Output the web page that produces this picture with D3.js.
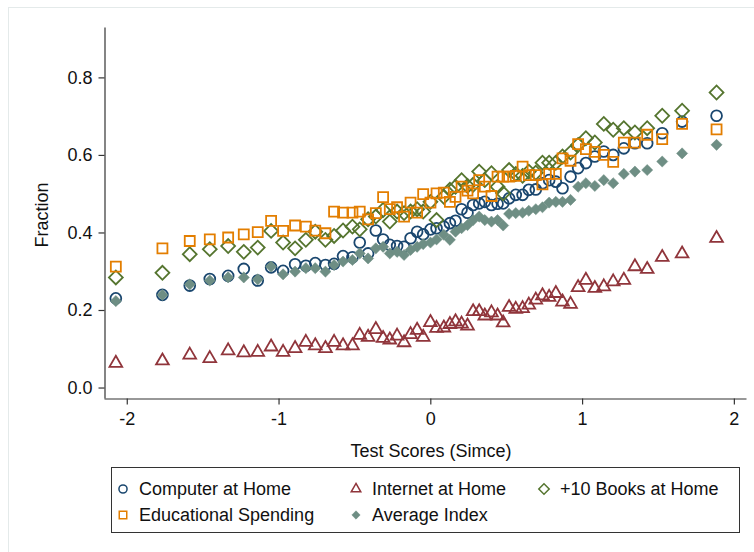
<!DOCTYPE html>
<html>
<head>
<meta charset="utf-8">
<script src="https://cdn.jsdelivr.net/npm/d3@7"></script>
<style>
body { margin: 0; background: #fff; }
svg text { font-family: "Liberation Sans", Arial, sans-serif; fill: #111; }
</style>
</head>
<body>
<div id="chart"></div>
<script>
// binned test scores (x) shared by all series
var scores = [-2.072, -1.765, -1.585, -1.453, -1.332, -1.229, -1.137, -1.049, -0.970, -0.891,
	-0.820, -0.758, -0.691, -0.634, -0.575, -0.513, -0.465, -0.410, -0.359, -0.311,
	-0.267, -0.219, -0.173, -0.130, -0.087, -0.047, 0.001, 0.041, 0.089, 0.129,
	0.166, 0.206, 0.245, 0.282, 0.322, 0.359, 0.403, 0.443, 0.480, 0.519,
	0.563, 0.608, 0.649, 0.695, 0.739, 0.783, 0.827, 0.871, 0.924, 0.974,
	1.025, 1.084, 1.143, 1.205, 1.275, 1.348, 1.429, 1.528, 1.659, 1.886];

var computer = [0.230, 0.239, 0.263, 0.280, 0.288, 0.306, 0.276, 0.310, 0.301, 0.318,
	0.314, 0.321, 0.316, 0.319, 0.339, 0.336, 0.374, 0.346, 0.405, 0.382,
	0.368, 0.365, 0.363, 0.385, 0.402, 0.395, 0.408, 0.411, 0.415, 0.424,
	0.430, 0.460, 0.451, 0.471, 0.475, 0.479, 0.471, 0.474, 0.475, 0.488,
	0.497, 0.497, 0.510, 0.511, 0.527, 0.535, 0.531, 0.514, 0.544, 0.566,
	0.579, 0.596, 0.609, 0.600, 0.617, 0.630, 0.630, 0.656, 0.686, 0.701];

var internet = [0.063, 0.069, 0.084, 0.075, 0.095, 0.090, 0.091, 0.105, 0.091, 0.101,
	0.117, 0.108, 0.101, 0.117, 0.108, 0.108, 0.135, 0.130, 0.150, 0.127,
	0.123, 0.133, 0.116, 0.137, 0.148, 0.130, 0.168, 0.153, 0.154, 0.163,
	0.170, 0.164, 0.159, 0.196, 0.196, 0.185, 0.193, 0.185, 0.167, 0.207,
	0.202, 0.204, 0.213, 0.226, 0.237, 0.233, 0.243, 0.221, 0.215, 0.258,
	0.277, 0.256, 0.260, 0.273, 0.277, 0.312, 0.305, 0.336, 0.345, 0.385];

var books = [0.284, 0.296, 0.344, 0.357, 0.365, 0.350, 0.361, 0.404, 0.374, 0.359,
	0.381, 0.402, 0.381, 0.391, 0.405, 0.415, 0.408, 0.434, 0.441, 0.458,
	0.428, 0.454, 0.450, 0.454, 0.460, 0.454, 0.479, 0.432, 0.492, 0.510,
	0.518, 0.535, 0.520, 0.523, 0.557, 0.535, 0.553, 0.518, 0.501, 0.561,
	0.551, 0.546, 0.557, 0.554, 0.580, 0.580, 0.580, 0.596, 0.606, 0.626,
	0.643, 0.632, 0.680, 0.665, 0.669, 0.658, 0.669, 0.701, 0.714, 0.761];

var spending = [0.312, 0.359, 0.378, 0.382, 0.387, 0.395, 0.401, 0.430, 0.404, 0.418,
	0.415, 0.405, 0.398, 0.454, 0.451, 0.451, 0.454, 0.434, 0.450, 0.491,
	0.460, 0.465, 0.441, 0.477, 0.451, 0.499, 0.477, 0.501, 0.503, 0.479,
	0.492, 0.518, 0.508, 0.501, 0.535, 0.518, 0.494, 0.544, 0.544, 0.544,
	0.546, 0.570, 0.548, 0.548, 0.524, 0.551, 0.551, 0.591, 0.585, 0.628,
	0.615, 0.608, 0.600, 0.582, 0.632, 0.632, 0.652, 0.641, 0.680, 0.666];

var average = [0.223, 0.239, 0.266, 0.276, 0.284, 0.284, 0.279, 0.312, 0.292, 0.299,
	0.308, 0.308, 0.299, 0.316, 0.325, 0.329, 0.346, 0.333, 0.359, 0.363,
	0.346, 0.350, 0.342, 0.355, 0.363, 0.370, 0.374, 0.382, 0.394, 0.381,
	0.402, 0.411, 0.419, 0.432, 0.441, 0.432, 0.428, 0.432, 0.418, 0.448,
	0.450, 0.451, 0.456, 0.460, 0.465, 0.477, 0.479, 0.479, 0.484, 0.518,
	0.527, 0.520, 0.535, 0.527, 0.551, 0.557, 0.561, 0.583, 0.604, 0.626];

var xTicks = [-2, -1, 0, 1, 2];
var yTicks = [0, 0.2, 0.4, 0.6, 0.8];
var legendLabels = ["Computer at Home", "Internet at Home", "+10 Books at Home", "Educational Spending", "Average Index"];

function drawChart() {
	var width = 754;
	var height = 552;
	var fontSize = 18;

	var svg = d3.select('#chart')
		.append('svg')
		.attr('width', width)
		.attr('height', height);

	// faint frame around the figure
	svg.append('rect')
		.attr('x', 8.5).attr('y', 7.5)
		.attr('width', 800).attr('height', 600)
		.attr('fill', 'none')
		.attr('stroke', '#e4eaea');

	var x = d3.scaleLinear().domain([-2.15, 2.08]).range([104, 746]);
	var y = d3.scaleLinear().domain([-0.027, 0.93]).range([398, 27]);

	var series = [
		{name: legendLabels[0], values: computer, shape: 'circle', color: '#1a476f', fill: false},
		{name: legendLabels[1], values: internet, shape: 'triangle', color: '#90353b', fill: false},
		{name: legendLabels[2], values: books, shape: 'diamond', color: '#55752f', fill: false},
		{name: legendLabels[3], values: spending, shape: 'square', color: '#e37e00', fill: false},
		{name: legendLabels[4], values: average, shape: 'fdiamond', color: '#6e8e84', fill: true}
	];

	function symbolPath(shape, scale) {
		var s = scale || 1;
		if (shape === 'circle') return d3.symbol(d3.symbolCircle, 92 * s * s)();
		if (shape === 'triangle') return d3.symbol(d3.symbolTriangle, 70 * s * s)();
		if (shape === 'square') return d3.symbol(d3.symbolSquare, 100 * s * s)();
		if (shape === 'diamond') return d3.symbol(d3.symbolSquare, 96 * s * s)();
		return d3.symbol(d3.symbolSquare, 62 * s * s)();
	}

	function rot(shape) {
		return (shape === 'diamond' || shape === 'fdiamond') ? ' rotate(45)' : '';
	}

	// axes
	var yAxis = d3.axisLeft(y).tickValues(yTicks).tickFormat(d3.format('.1f'))
		.tickSizeInner(6).tickSizeOuter(0).tickPadding(6);
	var xAxis = d3.axisBottom(x).tickValues(xTicks).tickFormat(d3.format('d'))
		.tickSizeInner(6).tickSizeOuter(0).tickPadding(8);

	var gy = svg.append('g').attr('transform', 'translate(104.5,0)').call(yAxis);
	var gx = svg.append('g').attr('transform', 'translate(0,398.5)').call(xAxis);

	[gx, gy].forEach(function(g) {
		g.selectAll('path, line').attr('stroke', '#333').attr('stroke-width', 1.2);
		g.selectAll('text').attr('font-size', fontSize).attr('fill', '#111')
			.attr('font-family', '"Liberation Sans", Arial, sans-serif');
	});
	gx.selectAll('text').text(function(d) { return d < 0 ? '-' + Math.abs(d) : d; });

	svg.append('text')
		.attr('x', 431).attr('y', 457)
		.attr('text-anchor', 'middle')
		.attr('font-size', fontSize)
		.text('Test Scores (Simce)');

	svg.append('text')
		.attr('transform', 'translate(48,215) rotate(-90)')
		.attr('text-anchor', 'middle')
		.attr('font-size', fontSize)
		.text('Fraction');

	// points
	series.forEach(function(s) {
		svg.append('g')
			.selectAll('path')
			.data(s.values)
			.enter().append('path')
			.attr('transform', function(d, i) { return 'translate(' + x(scores[i]) + ',' + y(d) + ')' + rot(s.shape); })
			.attr('d', symbolPath(s.shape))
			.attr('fill', s.fill ? s.color : 'none')
			.attr('stroke', s.color)
			.attr('stroke-width', s.fill ? 0.5 : 1.8);
	});

	// legend
	svg.append('rect')
		.attr('x', 111.5).attr('y', 467.5)
		.attr('width', 628).attr('height', 65)
		.attr('fill', '#fff')
		.attr('stroke', '#333');

	var cols = [123, 356, 544];
	var rows = [489, 515];
	series.forEach(function(s, i) {
		var cx = cols[i % 3];
		var cy = rows[Math.floor(i / 3)];
		svg.append('path')
			.attr('transform', 'translate(' + cx + ',' + cy + ')' + rot(s.shape))
			.attr('d', symbolPath(s.shape, 0.75))
			.attr('fill', s.fill ? s.color : 'none')
			.attr('stroke', s.color)
			.attr('stroke-width', s.fill ? 0.5 : 1.5);
		svg.append('text')
			.attr('x', cx + 16).attr('y', cy + 6)
			.attr('font-size', fontSize)
			.text(s.name);
	});
}

drawChart();
</script>
</body>
</html>
